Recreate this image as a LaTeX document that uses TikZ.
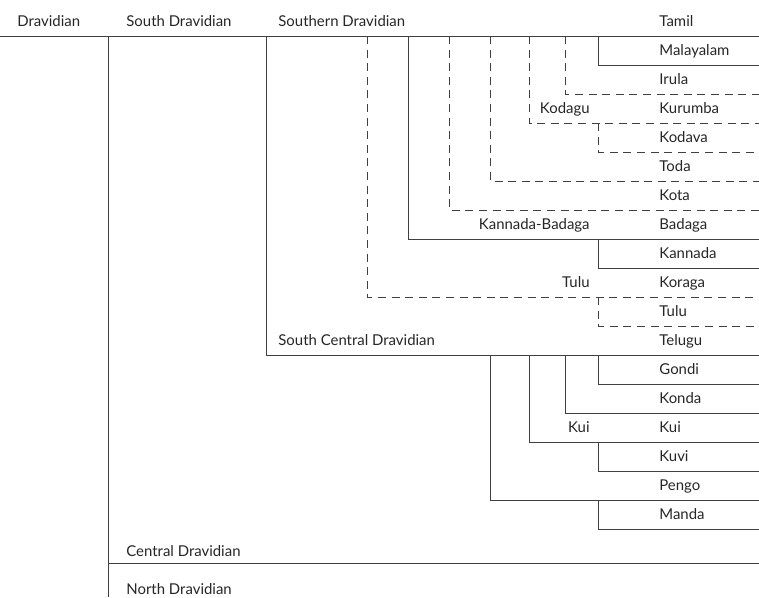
\documentclass[tikz,border=0pt]{standalone}
\usepackage{fontspec}
\setmainfont{Lato}
\usetikzlibrary{positioning}

\newcommand{\ry}[1]{\yo+\rh*#1}
\newcommand{\branch}[4][rule]{\draw[#1] (#2,\ry{#3}) |- (\xe,\ry{#4});}

\begin{document}
\begin{tikzpicture}[x=0.75pt, y=-0.75pt, line width=0.6pt,
    rule/.style={draw=black!75},
    dashrule/.style={draw=black!75, dash pattern=on 6pt off 4.2pt},
    lang/.style={anchor=base west, inner sep=0pt, text=black!85,
        font=\fontsize{11.2}{13}\selectfont},
    group/.style={lang, anchor=base east}]
    \def\yo{36}  % top rule
    \def\rh{29}  % row height
    \def\xl{659} % language column
    \def\xg{590} % right edge of group labels
    \def\xe{759} % right edge

    \useasboundingbox (0,0) rectangle (759,597);

    % header row
    \node[lang] (dravidian) at (17,\ry{0}-9.5) {Dravidian};
    \node[lang] (southdrav) at (126,\ry{0}-9.5) {South Dravidian};
    \node[lang] (southern)  at (278,\ry{0}-9.5) {Southern Dravidian};
    \node[lang] (tamil)     at (\xl,\ry{0}-9.5) {Tamil};

    % languages, one per row
    \foreach \name [count=\k] in {Malayalam, Irula, Kurumba, Kodava, Toda,
        Kota, Badaga, Kannada, Koraga, Tulu, Telugu, Gondi, Konda, Kui,
        Kuvi, Pengo, Manda}
        \node[lang] (lang\k) at (\xl,\ry{\k}-9.5) {\name};

    % subgroups
    \node[group] (kodagu)  at (\xg,\ry{3}-9.5)  {Kodagu};
    \node[group] (kannbad) at (\xg,\ry{7}-9.5)  {Kannada-Badaga};
    \node[group] (tulu)    at (\xg,\ry{9}-9.5)  {Tulu};
    \node[group] (kui)     at (\xg,\ry{14}-9.5) {Kui};
    \node[lang] (southcentral) at (278,\ry{11}-9.5) {South Central Dravidian};
    \node[lang] (central) at (126,556) {Central Dravidian};
    \node[lang] (north)   at (126,594) {North Dravidian};

    % rules
    \draw[rule] (0,\yo) -- (\xe,\yo);
    \draw[rule] (108,\yo) -- (108,597);
    \draw[rule] (108,563) -- (\xe,563);

    % Southern Dravidian
    \branch{266}{0}{11}
    \branch[dashrule]{367}{0}{9}
    \branch{408}{0}{7}
    \branch[dashrule]{449}{0}{6}
    \branch[dashrule]{490}{0}{5}
    \branch[dashrule]{529}{0}{3}
    \branch[dashrule]{565}{0}{2}
    \branch{598}{0}{1}
    \branch[dashrule]{598}{3}{4}
    \branch{598}{7}{8}
    \branch[dashrule]{598}{9}{10}

    % South Central Dravidian
    \branch{490}{11}{16}
    \branch{529}{11}{14}
    \branch{565}{11}{13}
    \branch{598}{11}{12}
    \branch{598}{14}{15}
    \branch{598}{16}{17}
\end{tikzpicture}
\end{document}
